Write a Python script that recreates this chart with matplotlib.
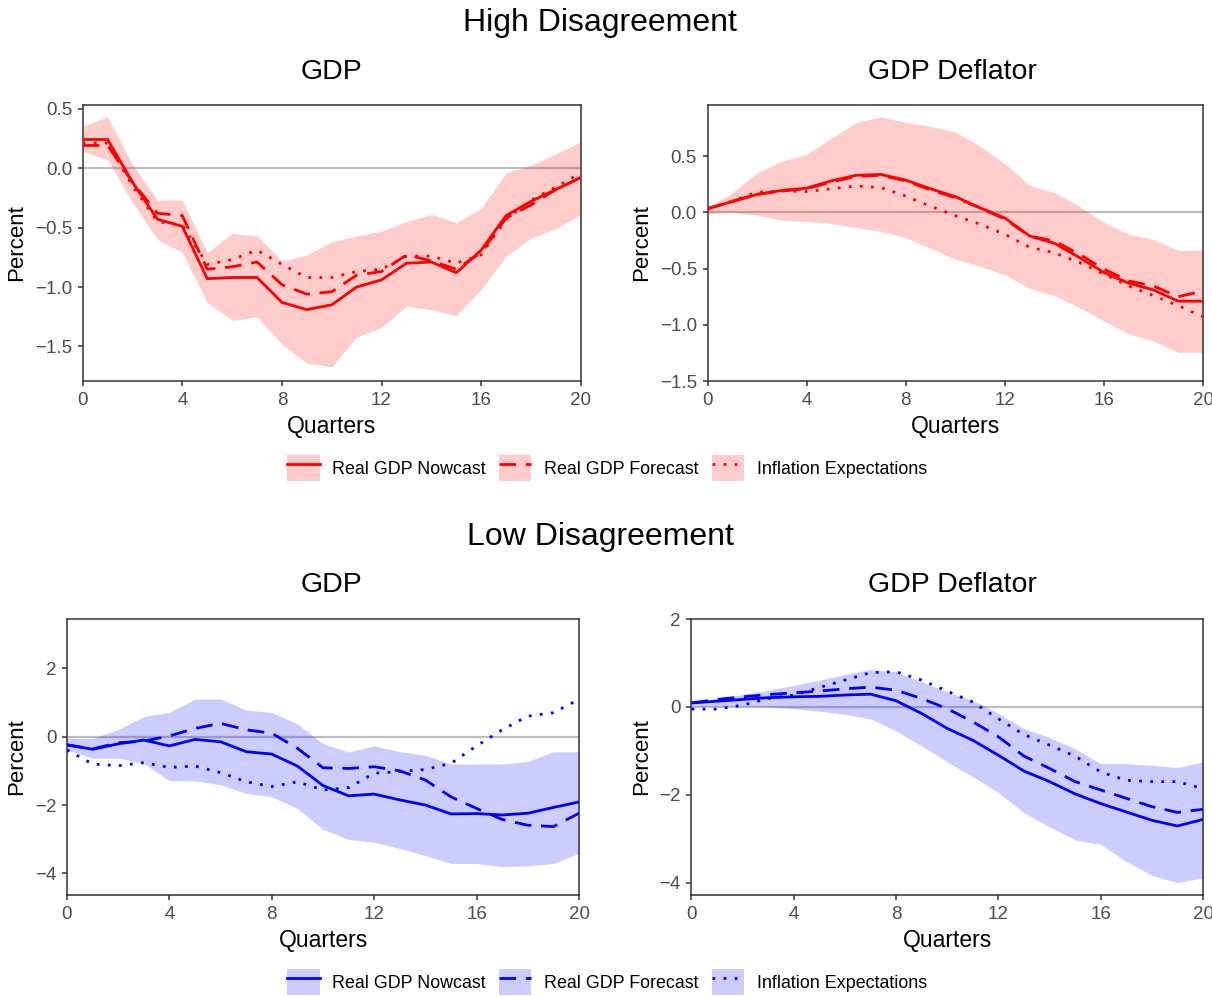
import matplotlib
matplotlib.use('Agg')
import matplotlib.pyplot as plt
from matplotlib.patches import Patch
from matplotlib.lines import Line2D
import numpy as np

plt.rcParams['font.family'] = ['Liberation Sans', 'DejaVu Sans']

quarters = np.arange(21)

# High disagreement, GDP
hi_gdp_nowcast = [0.24, 0.24, -0.12, -0.43, -0.49, -0.93, -0.92, -0.92, -1.13, -1.19, -1.15,
                  -1.00, -0.94, -0.80, -0.79, -0.88, -0.69, -0.40, -0.28, -0.18, -0.08]
hi_gdp_forecast = [0.19, 0.19, -0.12, -0.38, -0.40, -0.85, -0.83, -0.79, -0.98, -1.06, -1.04,
                   -0.90, -0.87, -0.73, -0.78, -0.85, -0.71, -0.42, -0.31, -0.18, -0.08]
hi_gdp_infl = [0.21, 0.21, -0.15, -0.45, -0.48, -0.81, -0.77, -0.69, -0.81, -0.92, -0.92,
               -0.87, -0.85, -0.74, -0.74, -0.80, -0.73, -0.43, -0.27, -0.16, -0.04]
hi_gdp_upper = [0.35, 0.43, 0.03, -0.27, -0.27, -0.71, -0.55, -0.57, -0.78, -0.73, -0.62,
                -0.57, -0.53, -0.45, -0.39, -0.46, -0.34, -0.04, 0.02, 0.12, 0.22]
hi_gdp_lower = [0.14, 0.07, -0.29, -0.60, -0.71, -1.13, -1.28, -1.25, -1.48, -1.64, -1.67,
                -1.42, -1.34, -1.16, -1.19, -1.24, -1.02, -0.74, -0.59, -0.51, -0.39]

# High disagreement, GDP deflator
hi_def_nowcast = [0.035, 0.095, 0.16, 0.195, 0.215, 0.28, 0.33, 0.337, 0.287, 0.21, 0.14,
                  0.04, -0.05, -0.21, -0.275, -0.40, -0.535, -0.63, -0.69, -0.79, -0.79]
hi_def_forecast = [0.03, 0.10, 0.16, 0.19, 0.21, 0.27, 0.32, 0.33, 0.28, 0.20, 0.13,
                   0.04, -0.06, -0.21, -0.255, -0.37, -0.505, -0.61, -0.655, -0.75, -0.70]
hi_def_infl = [0.03, 0.10, 0.18, 0.19, 0.185, 0.21, 0.235, 0.22, 0.145, 0.055, -0.03,
               -0.105, -0.195, -0.31, -0.36, -0.445, -0.55, -0.655, -0.74, -0.83, -0.93]
hi_def_upper = [0.04, 0.175, 0.35, 0.455, 0.515, 0.66, 0.80, 0.85, 0.80, 0.765, 0.715,
                0.59, 0.435, 0.24, 0.175, 0.055, -0.09, -0.195, -0.24, -0.34, -0.335]
hi_def_lower = [-0.01, 0.0, -0.025, -0.07, -0.08, -0.10, -0.135, -0.17, -0.225, -0.32, -0.415,
                -0.48, -0.555, -0.675, -0.74, -0.845, -0.965, -1.08, -1.145, -1.245, -1.245]

# Low disagreement, GDP
lo_gdp_nowcast = [-0.24, -0.37, -0.21, -0.10, -0.27, -0.08, -0.15, -0.44, -0.51, -0.86, -1.43,
                  -1.73, -1.68, -1.85, -2.00, -2.26, -2.25, -2.29, -2.24, -2.07, -1.91]
lo_gdp_forecast = [-0.24, -0.36, -0.18, -0.13, 0.02, 0.24, 0.39, 0.20, 0.10, -0.34, -0.91,
                   -0.93, -0.88, -1.00, -1.27, -1.76, -2.10, -2.42, -2.59, -2.63, -2.24]
lo_gdp_infl = [-0.39, -0.80, -0.85, -0.76, -0.90, -0.86, -1.05, -1.32, -1.46, -1.32, -1.56,
               -1.49, -1.07, -1.02, -0.96, -0.78, -0.27, 0.20, 0.60, 0.70, 1.09]
lo_gdp_upper = [-0.05, -0.05, 0.21, 0.59, 0.71, 1.10, 1.10, 0.78, 0.71, 0.37, -0.20,
                -0.45, -0.27, -0.44, -0.54, -0.80, -0.80, -0.80, -0.73, -0.44, -0.44]
lo_gdp_lower = [-0.39, -0.63, -0.63, -0.78, -1.29, -1.29, -1.41, -1.66, -1.76, -2.10, -2.71,
                -3.00, -3.09, -3.27, -3.48, -3.71, -3.71, -3.80, -3.78, -3.71, -3.41]

# Low disagreement, GDP deflator
lo_def_nowcast = [0.09, 0.13, 0.17, 0.21, 0.23, 0.24, 0.27, 0.29, 0.14, -0.15, -0.49,
                  -0.76, -1.10, -1.46, -1.70, -1.98, -2.20, -2.39, -2.58, -2.71, -2.56]
lo_def_forecast = [0.09, 0.17, 0.23, 0.28, 0.32, 0.36, 0.41, 0.45, 0.38, 0.19, -0.04,
                   -0.34, -0.68, -1.12, -1.40, -1.70, -1.89, -2.08, -2.27, -2.40, -2.33]
lo_def_infl = [-0.05, -0.05, 0.04, 0.19, 0.27, 0.44, 0.61, 0.78, 0.80, 0.61, 0.36,
               0.11, -0.27, -0.63, -0.87, -1.12, -1.48, -1.67, -1.70, -1.70, -1.86]
lo_def_upper = [0.11, 0.19, 0.28, 0.38, 0.49, 0.61, 0.74, 0.85, 0.80, 0.57, 0.34,
                0.15, -0.15, -0.49, -0.70, -0.95, -1.29, -1.29, -1.33, -1.38, -1.25]
lo_def_lower = [0.02, 0.02, 0.02, 0.0, -0.04, -0.10, -0.17, -0.27, -0.55, -0.89, -1.25,
                -1.59, -1.95, -2.41, -2.73, -3.03, -3.13, -3.52, -3.83, -4.00, -3.89]

series_names = ['Real GDP Nowcast', 'Real GDP Forecast', 'Inflation Expectations']
x_ticks = [0, 4, 8, 12, 16, 20]

W, H = 1212, 997
fig = plt.figure(figsize=(W / 100, H / 100), dpi=100)


def px_box(x0, x1, y0, y1):
    return [x0 / W, 1 - y1 / H, (x1 - x0) / W, (y1 - y0) / H]


LW = 2.0
styles = ['-', (0, (6, 3.5)), (0, (1, 3))]


def panel(box, color, lines, lower, upper, ylim, yticks, ylabels, label_x):
    ax = fig.add_axes(box)
    ax.axhline(0, color='#BEBEBE', lw=1.6, zorder=1)
    ax.fill_between(quarters, lower, upper, color=color, alpha=0.2, lw=0, zorder=2)
    for vals, ls in zip(lines, styles):
        ax.plot(quarters, vals, color=color, lw=LW, ls=ls, zorder=3,
                solid_capstyle='butt', dash_capstyle='butt')
    ax.set_xlim(0, 20)
    ax.set_ylim(*ylim)
    ax.set_xticks(x_ticks)
    ax.set_xticklabels([str(t) for t in x_ticks])
    ax.set_yticks(yticks)
    ax.set_yticklabels(ylabels)
    ax.tick_params(direction='out', length=3.6, width=1.1, color='#333333',
                   labelcolor='#4D4D4D', labelsize=13.5, pad=4)
    for sp in ax.spines.values():
        sp.set_linewidth(1.1)
        sp.set_color('#333333')
    ax.set_xlabel('Quarters', fontsize=16.5, labelpad=4.5)
    ax.set_ylabel('Percent', fontsize=16, va='center')
    ax.yaxis.set_label_coords(label_x, 0.5)
    return ax


def fmt(vals, dec):
    return [(f'{v:.{dec}f}').replace('-', '\u2212') for v in vals]


red, blue = '#FF0000', '#0000FF'

panel(px_box(82.7, 580.8, 105, 381), red,
      [hi_gdp_nowcast, hi_gdp_forecast, hi_gdp_infl], hi_gdp_lower, hi_gdp_upper,
      (-1.79, 0.53), [-1.5, -1.0, -0.5, 0.0, 0.5], fmt([-1.5, -1.0, -0.5, 0.0, 0.5], 1), -0.132)
panel(px_box(707.5, 1203, 105, 381), red,
      [hi_def_nowcast, hi_def_forecast, hi_def_infl], hi_def_lower, hi_def_upper,
      (-1.5, 0.955), [-1.5, -1.0, -0.5, 0.0, 0.5], fmt([-1.5, -1.0, -0.5, 0.0, 0.5], 1), -0.132)
panel(px_box(67, 579, 619, 895), blue,
      [lo_gdp_nowcast, lo_gdp_forecast, lo_gdp_infl], lo_gdp_lower, lo_gdp_upper,
      (-4.63, 3.44), [-4, -2, 0, 2], fmt([-4, -2, 0, 2], 0), -0.098)
panel(px_box(691.5, 1203, 619, 895), blue,
      [lo_def_nowcast, lo_def_forecast, lo_def_infl], lo_def_lower, lo_def_upper,
      (-4.28, 2.0), [-4, -2, 0, 2], fmt([-4, -2, 0, 2], 0), -0.097)

# headings
fig.text(600 / W, 1 - 23 / H, 'High Disagreement', fontsize=23, ha='center', va='center')
fig.text(600 / W, 1 - 537 / H, 'Low Disagreement', fontsize=23, ha='center', va='center')
for y in (72, 585):
    fig.text(331 / W, 1 - y / H, 'GDP', fontsize=20.5, ha='center', va='center')
    fig.text(952 / W, 1 - y / H, 'GDP Deflator', fontsize=20.5, ha='center', va='center')


def add_legend(color, y):
    handles = []
    for ls in styles:
        handles.append((Patch(facecolor=color, alpha=0.2, lw=0),
                        Line2D([], [], color=color, lw=LW, ls=ls)))
    fig.legend(handles, series_names, loc='center', bbox_to_anchor=(607 / W, 1 - y / H),
               ncol=3, frameon=False, fontsize=12.9, handlelength=1.8, handleheight=1.85,
               handletextpad=0.7, columnspacing=0.75)


add_legend(red, 468)
add_legend(blue, 982)

fig.savefig('out.png', dpi=100)
